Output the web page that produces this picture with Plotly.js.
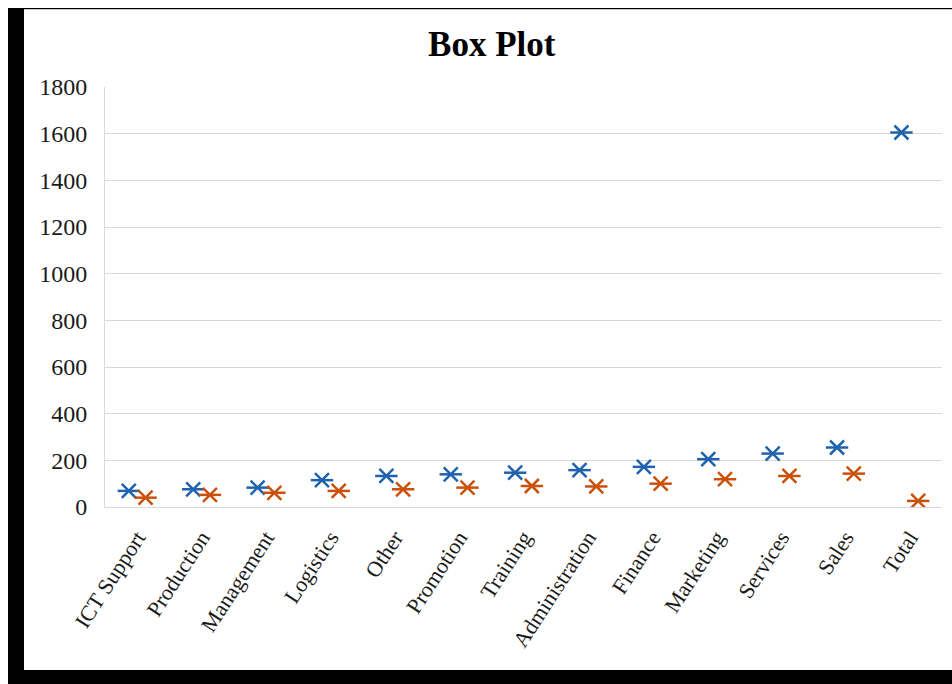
<!DOCTYPE html>
<html>
<head>
<meta charset="utf-8">
<script src="https://cdn.plot.ly/plotly-3.0.1.min.js"></script>
<style>
  html, body { margin: 0; padding: 0; background: #ffffff; width: 952px; height: 684px; overflow: hidden; }
  #frame { position: absolute; left: 8px; top: 8px; width: 944px; height: 676px; background: #000000; }
  #chart { position: absolute; left: 24px; top: 9px; width: 928px; height: 661px; background: #ffffff; border-top: 1px solid #c8c8c8; box-sizing: border-box; }
</style>
</head>
<body>
<div id="frame"></div>
<div id="chart"></div>
<script>
const categories = ["ICT Support", "Production", "Management", "Logistics", "Other", "Promotion",
  "Training", "Administration", "Finance", "Marketing", "Services", "Sales", "Total"];
const seriesBlue = [69, 76, 83, 115, 133, 140, 147, 158, 172, 205, 229, 255, 1605];
const seriesOrange = [40, 52, 61, 69, 76, 83, 90, 88, 100, 119, 133, 143, 26];
const yTickValues = [0, 200, 400, 600, 800, 1000, 1200, 1400, 1600, 1800];

const blue = "#1f62ad";
const orange = "#c9510c";

function starTraces(values, color, group) {
  const base = {
    x: categories, y: values, type: "scatter", mode: "markers",
    offsetgroup: group, alignmentgroup: "a", hoverinfo: "x+y", showlegend: false
  };
  return [
    Object.assign({}, base, { marker: { symbol: "x-thin-open", size: 14, color: color, line: { color: color, width: 2.5 } } }),
    Object.assign({}, base, { marker: { symbol: "line-ew-open", size: 16, color: color, line: { color: color, width: 2.5 } } })
  ];
}

const data = [].concat(starTraces(seriesBlue, blue, "g1"), starTraces(seriesOrange, orange, "g2"));

const layout = {
  width: 928, height: 660,
  margin: { l: 81, r: 10, t: 77, b: 163, pad: 0 },
  paper_bgcolor: "rgba(0,0,0,0)", plot_bgcolor: "#ffffff",
  scattermode: "group", scattergap: 0.48,
  title: { text: "<b>Box Plot</b>", x: 0.504, xanchor: "center", xref: "container", y: 0.949, yanchor: "middle", yref: "container",
    font: { family: "Liberation Serif", size: 35, color: "#000000" } },
  xaxis: {
    type: "category", tickangle: -57, showgrid: false, showline: true, linecolor: "#d9d9d9", linewidth: 1,
    ticks: "", ticklabelstandoff: 8,
    tickfont: { family: "Liberation Serif", size: 22, color: "#1a1a1a" }
  },
  yaxis: {
    range: [0, 1800], tickvals: yTickValues, showgrid: true, gridcolor: "#d9d9d9", gridwidth: 1,
    zeroline: true, zerolinecolor: "#d9d9d9", showline: true, linecolor: "#d9d9d9", linewidth: 1,
    ticks: "", ticklabelstandoff: 12,
    tickfont: { family: "Liberation Serif", size: 24, color: "#1a1a1a" }
  }
};

Plotly.newPlot("chart", data, layout, { displayModeBar: false, staticPlot: true });
</script>
</body>
</html>
